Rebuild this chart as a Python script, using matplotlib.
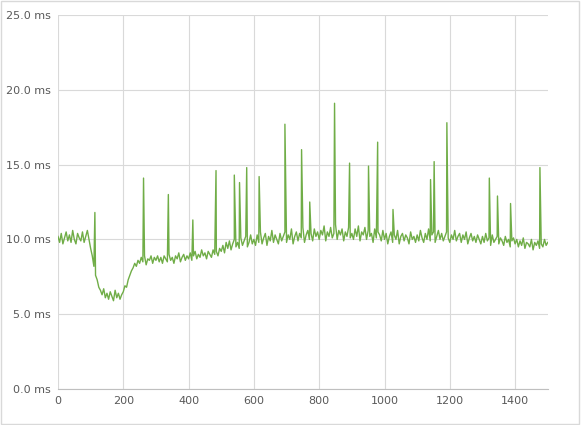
import numpy as np
import matplotlib.pyplot as plt

# baseline samples every 5 units, x = 0..1500
base_vals = [
    10.2, 9.8, 10.4, 9.7, 10.1, 10.5, 9.9, 10.3, 9.8, 10.6, 10.0, 9.7, 10.4, 10.1, 9.9, 10.5, 9.8, 10.2, 10.6, 10.0,
    9.4, 8.9, 8.2, 7.6, 7.3, 6.8, 6.6, 6.3, 6.7, 6.1, 6.4, 6.0, 6.5, 6.2, 5.9, 6.6, 6.1, 6.4, 6.0, 6.3,
    6.5, 6.9, 6.8, 7.3, 7.6, 7.9, 8.1, 8.4, 8.2, 8.6, 8.4, 8.8, 8.5, 8.9, 8.3, 8.7, 8.6, 8.9, 8.4, 8.8,
    8.6, 8.9, 8.5, 8.8, 8.4, 8.9, 8.7, 8.5, 9.0, 8.6, 8.8, 8.4, 8.9, 8.7, 9.1, 8.5, 8.8, 9.0, 8.6, 8.9,
    8.7, 9.1, 8.6, 8.9, 9.2, 8.7, 9.0, 8.8, 9.3, 8.9, 9.1, 8.7, 9.2, 9.0, 8.8, 9.3, 9.0, 9.2, 8.9, 9.4,
    9.2, 9.6, 9.1, 9.8, 9.4, 9.9, 9.3, 9.7, 10.0, 9.5, 9.8, 9.4, 10.1, 9.6, 9.9, 10.2, 9.5, 9.8, 10.3, 9.7,
    10.0, 9.6, 10.3, 9.8, 10.5, 9.7, 10.1, 10.4, 9.6, 10.2, 9.9, 10.6, 9.8, 10.3, 10.0, 9.7, 10.4, 9.9, 10.2, 10.5,
    9.8, 10.3, 10.0, 10.7, 9.7, 10.2, 10.5, 9.9, 10.4, 10.1, 10.8, 9.8, 10.3, 10.6, 10.0, 10.4, 9.9, 10.7, 10.2, 10.5,
    10.0, 10.6, 10.3, 10.9, 9.9, 10.5, 10.2, 10.8, 10.1, 10.4, 11.0, 10.0, 10.6, 10.3, 10.7, 9.9, 10.5, 10.2, 10.8, 10.1,
    10.4, 10.0, 10.7, 10.2, 10.9, 9.9, 10.5, 10.3, 10.8, 10.0, 10.6, 10.2, 10.4, 9.8, 10.7, 10.1, 10.5, 10.3, 9.9, 10.6,
    10.0, 10.4, 9.7, 10.2, 10.5, 9.8, 10.3, 10.0, 10.6, 9.7, 10.2, 10.4, 9.9, 10.3, 10.1, 9.7, 10.5, 10.0, 10.2, 9.8,
    10.3, 9.9, 10.6, 10.1, 9.8, 10.4, 10.0, 10.7, 9.9, 10.3, 10.5, 9.8, 10.2, 10.6, 10.0, 10.4, 9.9, 10.2, 10.5, 10.1,
    9.8, 10.3, 10.0, 10.6, 9.9, 10.2, 10.4, 9.8, 10.3, 10.0, 10.5, 9.7, 10.1, 10.4, 9.9, 10.2, 9.8, 10.3, 10.0, 9.7,
    10.2, 9.8, 10.4, 9.9, 10.1, 9.6, 10.3, 9.8, 10.0, 10.2, 9.7, 10.1, 9.9, 9.6, 10.2, 9.8, 10.0, 9.5, 9.9, 10.1,
    9.7, 10.0, 9.5, 9.9, 9.6, 10.1, 9.4, 9.8, 9.7, 9.5, 10.0, 9.3, 9.8, 9.6, 9.9, 9.4, 9.7, 9.5, 10.0, 9.6,
    9.8,
]
base_x = list(range(0, 1501, 5))

spike_x = [113, 262, 338, 413, 484, 540, 556, 578, 616, 695, 746, 771, 847, 893, 951, 979,
           1026, 1141, 1152, 1191, 1321, 1346, 1386, 1476]
spike_y = [11.8, 14.1, 13.0, 11.3, 14.6, 14.3, 13.8, 14.8, 14.2, 17.7, 16.0, 12.5, 19.1, 15.1, 14.9, 16.5,
           12.0, 14.0, 15.2, 17.8, 14.1, 12.9, 12.4, 14.8]

x = np.array(base_x + spike_x, dtype=float)
y = np.array(base_vals + spike_y, dtype=float)
order = np.argsort(x, kind="stable")
x, y = x[order], y[order]

fig = plt.figure(figsize=(5.81, 4.25), dpi=100)
ax = fig.add_axes([0.0998, 0.0847, 0.843, 0.88])
ax.plot(x, y, color="#70AD47", linewidth=1.0)

ax.set_xlim(0, 1500)
ax.set_ylim(0, 25)
ax.set_xticks(range(0, 1401, 200))
ax.set_yticks(range(0, 26, 5))
ax.set_yticklabels([f"{v:.1f} ms" for v in range(0, 26, 5)])
ax.grid(True, color="#D9D9D9", linewidth=0.8)
ax.set_axisbelow(True)
for side in ["top", "right", "left"]:
    ax.spines[side].set_visible(False)
ax.spines["bottom"].set_color("#BFBFBF")
ax.tick_params(length=0, labelsize=8, colors="#595959", pad=5)

fig.patches.append(plt.Rectangle((0.002, 0.002), 0.995, 0.995, transform=fig.transFigure,
                                 fill=False, edgecolor="#D9D9D9", linewidth=1))
fig.savefig("out.png", dpi=100)
